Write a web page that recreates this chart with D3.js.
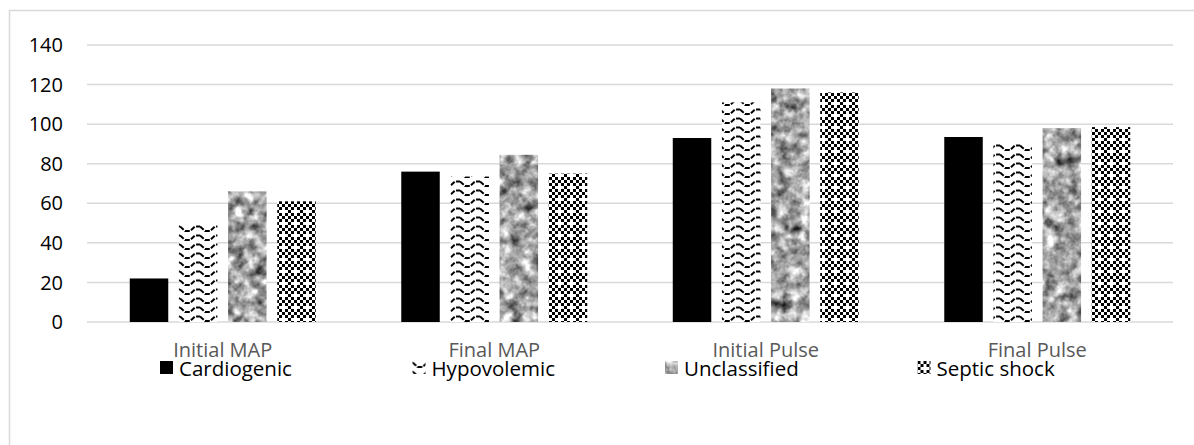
<!DOCTYPE html>
<html>
<head>
<meta charset="utf-8">
<script src="https://cdn.jsdelivr.net/npm/d3@7"></script>
<style>
    html, body { margin: 0; padding: 0; background: #fff; }
    svg { display: block; font-family: "Open Sans", "Liberation Sans", sans-serif; }
</style>
</head>
<body>
<svg id="chart" width="1194" height="445"></svg>
<script>
// Shock types - MAP and pulse, initial vs final
const categories = ['Initial MAP', 'Final MAP', 'Initial Pulse', 'Final Pulse'];
const seriesNames = ['Cardiogenic', 'Hypovolemic', 'Unclassified', 'Septic shock'];
const cardiogenic = [22, 76, 93, 93.5];
const hypovolemic = [49.5, 73.5, 111, 90.5];
const unclassified = [66, 84.5, 118, 98];
const septicShock = [61, 75, 116, 98.5];
const yTicks = [0, 20, 40, 60, 80, 100, 120, 140];

const seriesValues = [cardiogenic, hypovolemic, unclassified, septicShock];

const width = 1194;
const height = 445;
const margin = { top: 45, right: 21, bottom: 123, left: 87 };

const svg = d3.select('#chart');

// Outer chart frame (right/bottom edges fall outside the picture)
svg.append('rect')
    .attr('x', 9.5)
    .attr('y', 10.5)
    .attr('width', 1300)
    .attr('height', 600)
    .attr('fill', 'none')
    .attr('stroke', '#d9d9d9')
    .attr('stroke-width', 1.5);

const defs = svg.append('defs');

// Zigzag wave pattern
const wave = defs.append('pattern')
    .attr('id', 'wave')
    .attr('patternUnits', 'userSpaceOnUse')
    .attr('width', 20)
    .attr('height', 9);
wave.append('rect').attr('width', 20).attr('height', 9).attr('fill', '#fff');
wave.append('path')
    .attr('d', 'M0,1.5 L5,6 L10,6 L15,1.5 L20,1.5')
    .attr('fill', 'none')
    .attr('stroke', '#000')
    .attr('stroke-width', 2)
    .attr('stroke-dasharray', '5,1.5');

// Checkerboard with white crosses
const checker = defs.append('pattern')
    .attr('id', 'checker')
    .attr('patternUnits', 'userSpaceOnUse')
    .attr('width', 12)
    .attr('height', 12);
checker.append('rect').attr('width', 12).attr('height', 12).attr('fill', '#fff');
const cells = [];
for (let i = 0; i < 4; i++) {
    for (let j = 0; j < 4; j++) {
        if ((i + j) % 2 === 0 && !(i === 2 && j === 2)) cells.push([i, j]);
    }
}
checker.selectAll('rect.cell')
    .data(cells)
    .enter()
    .append('rect')
    .attr('class', 'cell')
    .attr('x', d => d[0] * 3)
    .attr('y', d => d[1] * 3)
    .attr('width', 3)
    .attr('height', 3)
    .attr('fill', '#000');

// Granite texture
const granite = defs.append('filter')
    .attr('id', 'granite')
    .attr('x', 0).attr('y', 0)
    .attr('width', 1).attr('height', 1)
    .attr('color-interpolation-filters', 'sRGB');
granite.append('feTurbulence')
    .attr('type', 'fractalNoise')
    .attr('baseFrequency', 0.09)
    .attr('numOctaves', 3)
    .attr('seed', 7)
    .attr('result', 'noise');
granite.append('feColorMatrix')
    .attr('in', 'noise')
    .attr('type', 'matrix')
    .attr('values', '0.33 0.33 0.33 0 0  0.33 0.33 0.33 0 0  0.33 0.33 0.33 0 0  0 0 0 0 1')
    .attr('result', 'gray');
const ct = granite.append('feComponentTransfer').attr('in', 'gray').attr('result', 'contrast');
['feFuncR', 'feFuncG', 'feFuncB'].forEach(f => {
    ct.append(f).attr('type', 'linear').attr('slope', 2.3).attr('intercept', -0.5);
});
granite.append('feComposite')
    .attr('in', 'contrast')
    .attr('in2', 'SourceGraphic')
    .attr('operator', 'in');

const styles = [
    { fill: '#000', filter: null },
    { fill: 'url(#wave)', filter: null },
    { fill: '#999', filter: 'url(#granite)' },
    { fill: 'url(#checker)', filter: null }
];

// Scales
const x = d3.scaleBand()
    .domain(categories)
    .range([margin.left, width - margin.right]);

const x1 = d3.scaleBand()
    .domain(seriesNames)
    .range([0, x.bandwidth()])
    .paddingInner(0.217)
    .paddingOuter(0.87);

const y = d3.scaleLinear()
    .domain([0, 140])
    .range([height - margin.bottom, margin.top]);

// Gridlines
svg.append('g')
    .selectAll('line')
    .data(yTicks)
    .enter()
    .append('line')
    .attr('x1', margin.left)
    .attr('x2', width - margin.right)
    .attr('y1', d => y(d))
    .attr('y2', d => y(d))
    .attr('stroke', '#d9d9d9')
    .attr('stroke-width', 1.5);

// Y tick labels
svg.append('g')
    .selectAll('text')
    .data(yTicks)
    .enter()
    .append('text')
    .attr('x', margin.left - 24)
    .attr('y', d => y(d))
    .attr('dy', '0.36em')
    .attr('text-anchor', 'end')
    .attr('fill', '#000')
    .attr('font-size', '20px')
    .text(d => d);

// Bars
const barData = [];
seriesNames.forEach((s, si) => {
    categories.forEach((c, ci) => {
        barData.push({ series: s, si: si, category: c, value: seriesValues[si][ci] });
    });
});

svg.append('g')
    .selectAll('rect')
    .data(barData)
    .enter()
    .append('rect')
    .attr('x', d => x(d.category) + x1(d.series))
    .attr('y', d => y(d.value))
    .attr('width', x1.bandwidth())
    .attr('height', d => y(0) - y(d.value))
    .attr('fill', d => styles[d.si].fill)
    .attr('filter', d => styles[d.si].filter);

// Category labels
svg.append('g')
    .selectAll('text')
    .data(categories)
    .enter()
    .append('text')
    .attr('x', d => x(d) + x.bandwidth() / 2)
    .attr('y', 357)
    .attr('text-anchor', 'middle')
    .attr('fill', '#595959')
    .attr('font-size', '20px')
    .text(d => d);

// Legend
const lx = d3.scaleBand()
    .domain(seriesNames)
    .range([160, 1170]);

const legendItems = svg.append('g')
    .selectAll('g')
    .data(seriesNames)
    .enter()
    .append('g')
    .attr('transform', d => `translate(${lx(d)}, 361)`);

legendItems.append('rect')
    .attr('width', 13)
    .attr('height', 13)
    .attr('fill', (d, i) => styles[i].fill)
    .attr('filter', (d, i) => styles[i].filter);

legendItems.append('text')
    .attr('x', 19)
    .attr('y', 15)
    .attr('fill', '#000')
    .attr('font-size', '20.5px')
    .text(d => d);
</script>
</body>
</html>
